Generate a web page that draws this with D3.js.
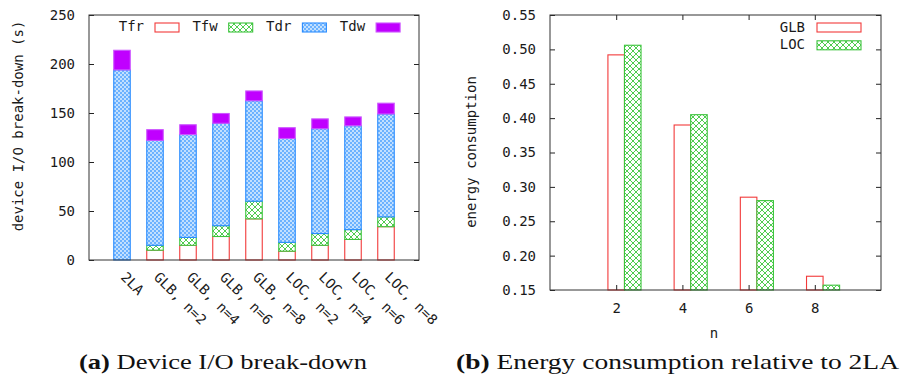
<!DOCTYPE html>
<html><head><meta charset="utf-8">
<script src="https://cdn.jsdelivr.net/npm/d3@7"></script>
<style>
body{margin:0;background:#fff;}
svg{display:block;}
text{font-family:"DejaVu Sans Mono",monospace;font-size:14px;fill:#1a1a1a;}
.cap{font-family:"Liberation Serif",serif;font-size:21px;fill:#111;}
</style></head><body>
<svg id="c" width="901" height="380"></svg>
<script>
// ---- data: chart (a)
const categories = ["2LA","GLB, n=2","GLB, n=4","GLB, n=6","GLB, n=8","LOC, n=2","LOC, n=4","LOC, n=6","LOC, n=8"];
const seriesNames = ["Tfr","Tfw","Tdr","Tdw"];
const Tfr = [0,10,15,24,42,9,15,21,34];
const Tfw = [0,5,8,11,18,9,12,10,10];
const Tdr = [194,107,105,104.5,102.5,106,107,106,105];
const Tdw = [20,11,10,10,10,11,10,9,11];
const yTicksA = [0,50,100,150,200,250];
// ---- data: chart (b)
const nValues = [2,4,6,8];
const GLB = [0.492,0.390,0.285,0.170];
const LOC = [0.506,0.405,0.280,0.157];
const yTicksB = [0.15,0.20,0.25,0.30,0.35,0.40,0.45,0.50,0.55];

const svg = d3.select("#c");
const defs = svg.append("defs");
const pb = defs.append("pattern").attr("id","pBlue").attr("patternUnits","userSpaceOnUse").attr("width",4).attr("height",4);
pb.append("rect").attr("width",4).attr("height",4).attr("fill","#c2e0ff");
pb.append("rect").attr("x",0).attr("y",0).attr("width",2).attr("height",2).attr("fill","#6cb2ff");
pb.append("rect").attr("x",2).attr("y",2).attr("width",2).attr("height",2).attr("fill","#6cb2ff");
const pg = defs.append("pattern").attr("id","pGreen").attr("patternUnits","userSpaceOnUse").attr("width",6).attr("height",6);
pg.append("rect").attr("width",6).attr("height",6).attr("fill","#fff");
pg.append("path").attr("d","M-1,-1L7,7M7,-1L-1,7").attr("stroke","#50cc50").attr("stroke-width",1);

const styles = {
  Tfr:{fill:"#fff",stroke:"#f23a3a"},
  Tfw:{fill:"url(#pGreen)",stroke:"#3cc43c"},
  Tdr:{fill:"url(#pBlue)",stroke:"#2a8cff"},
  Tdw:{fill:"#c000ff",stroke:"#cc55ff"}
};

// ================= chart (a)
const xA = d3.scaleLinear().domain([0,10]).range([89,419]);
const yA = d3.scaleLinear().domain([0,250]).range([260,15]);
const rows = categories.map((c,i)=>({cat:c,Tfr:Tfr[i],Tfw:Tfw[i],Tdr:Tdr[i],Tdw:Tdw[i]}));
const stacked = d3.stack().keys(seriesNames)(rows);
const gA = svg.append("g");
const bw = xA(0.5)-xA(0);
stacked.forEach(layer=>{
  const st = styles[layer.key];
  gA.append("g").selectAll("rect").data(layer.filter(d=>d[1]-d[0]>0)).join("rect")
    .attr("x",d=>xA(rows.indexOf(d.data)+1)-bw/2)
    .attr("width",bw)
    .attr("y",d=>yA(d[1]))
    .attr("height",d=>yA(d[0])-yA(d[1]))
    .attr("fill",st.fill).attr("stroke",st.stroke).attr("stroke-width",1.1);
});
gA.append("g").attr("transform","translate(89,0)")
  .call(d3.axisLeft(yA).tickValues(yTicksA).tickSize(-5).tickPadding(14).tickFormat(d3.format("d")))
  .call(g=>{g.select(".domain").remove();g.selectAll("line").attr("stroke","#222");g.selectAll("text").attr("font-family",null).attr("font-size",null).attr("fill","#1a1a1a");});
gA.append("g").attr("transform","translate(419,0)")
  .call(d3.axisRight(yA).tickValues(yTicksA).tickSize(-5).tickFormat(""))
  .call(g=>{g.select(".domain").remove();g.selectAll("line").attr("stroke","#222");});
gA.append("rect").attr("x",89).attr("y",15).attr("width",330).attr("height",245)
  .attr("fill","none").attr("stroke","#333").attr("stroke-width",1);
gA.append("g").selectAll("text").data(categories).join("text")
  .attr("transform",(d,i)=>`translate(${xA(i+1)-2},278) rotate(45)`)
  .attr("text-anchor","start").text(d=>d);
gA.append("text").attr("transform","translate(23,126) rotate(-90)").attr("text-anchor","middle")
  .text("device I/O break-down (s)");
// legend (a)
const legA = gA.append("g");
seriesNames.forEach((k,i)=>{
  const ox = i*73.7;
  legA.append("text").attr("x",144+ox).attr("y",31).attr("text-anchor","end").text(k);
  legA.append("rect").attr("x",155+ox).attr("y",23).attr("width",24).attr("height",9)
    .attr("fill",styles[k].fill).attr("stroke",styles[k].stroke).attr("stroke-width",1.1);
});

// ================= chart (b)
const xB = d3.scaleLinear().domain([0,10]).range([550,881]);
const yB = d3.scaleLinear().domain([0.15,0.55]).range([290,15]);
const gB = svg.append("g");
gB.append("g").selectAll("rect").data(nValues).join("rect")
  .attr("x",(d)=>xB(d-0.25)).attr("width",xB(0.5)-xB(0))
  .attr("y",(d,i)=>yB(GLB[i])).attr("height",(d,i)=>yB(0.15)-yB(GLB[i]))
  .attr("fill","#fff").attr("stroke","#f23a3a").attr("stroke-width",1.1);
gB.append("g").selectAll("rect").data(nValues).join("rect")
  .attr("x",(d)=>xB(d+0.25)).attr("width",xB(0.5)-xB(0))
  .attr("y",(d,i)=>yB(LOC[i])).attr("height",(d,i)=>yB(0.15)-yB(LOC[i]))
  .attr("fill","url(#pGreen)").attr("stroke","#3cc43c").attr("stroke-width",1.1);
gB.append("g").attr("transform","translate(550,0)")
  .call(d3.axisLeft(yB).tickValues(yTicksB).tickSize(-5).tickPadding(14).tickFormat(d3.format(".2f")))
  .call(g=>{g.select(".domain").remove();g.selectAll("line").attr("stroke","#222");g.selectAll("text").attr("font-family",null).attr("font-size",null).attr("fill","#1a1a1a");});
gB.append("g").attr("transform","translate(881,0)")
  .call(d3.axisRight(yB).tickValues(yTicksB).tickSize(-5).tickFormat(""))
  .call(g=>{g.select(".domain").remove();g.selectAll("line").attr("stroke","#222");});
gB.append("g").attr("transform","translate(0,290)")
  .call(d3.axisBottom(xB).tickValues(nValues).tickSize(-5).tickPadding(13).tickFormat(d3.format("d")))
  .call(g=>{g.select(".domain").remove();g.selectAll("line").attr("stroke","#222");g.selectAll("text").attr("font-family",null).attr("font-size",null).attr("fill","#1a1a1a");});
gB.append("g").attr("transform","translate(0,15)")
  .call(d3.axisTop(xB).tickValues(nValues).tickSize(-5).tickFormat(""))
  .call(g=>{g.select(".domain").remove();g.selectAll("line").attr("stroke","#222");});
gB.append("rect").attr("x",550).attr("y",15).attr("width",331).attr("height",275)
  .attr("fill","none").attr("stroke","#333").attr("stroke-width",1);
gB.append("text").attr("x",714).attr("y",338).attr("text-anchor","middle").text("n");
gB.append("text").attr("transform","translate(476,152) rotate(-90)").attr("text-anchor","middle")
  .text("energy consumption");
const legB = [{k:"GLB",fill:"#fff",stroke:"#f23a3a"},{k:"LOC",fill:"url(#pGreen)",stroke:"#3cc43c"}];
legB.forEach((l,i)=>{
  gB.append("text").attr("x",805).attr("y",31.5+i*17.5).attr("text-anchor","end").text(l.k);
  gB.append("rect").attr("x",817).attr("y",23+i*17.8).attr("width",44).attr("height",9)
    .attr("fill",l.fill).attr("stroke",l.stroke).attr("stroke-width",1.1);
});

// ================= captions
const capA = svg.append("text").attr("class","cap").attr("x",79).attr("y",369)
  .attr("textLength",288).attr("lengthAdjust","spacingAndGlyphs");
capA.append("tspan").attr("font-weight","bold").text("(a)");
capA.append("tspan").text(" Device I/O break-down");
const capB = svg.append("text").attr("class","cap").attr("x",456).attr("y",369)
  .attr("textLength",443).attr("lengthAdjust","spacingAndGlyphs");
capB.append("tspan").attr("font-weight","bold").text("(b)");
capB.append("tspan").text(" Energy consumption relative to 2LA");
</script>
</body></html>
